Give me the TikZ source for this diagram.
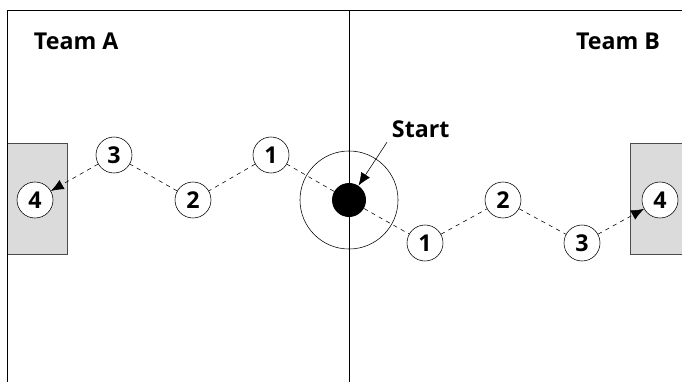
\documentclass[tikz,border=0pt]{standalone}
\usepackage{fontspec}
\setmainfont{Open Sans}
\usetikzlibrary{arrows.meta,positioning}

\begin{document}
\begin{tikzpicture}[x=0.025cm, y=-0.025cm,
    every node/.style={font=\fontsize{16.5}{18}\selectfont\bfseries},
    station/.style={circle, draw, fill=white, minimum size=0.9cm, inner sep=0pt},
    goalbox/.style={draw=black!70, fill=black!14},
    run/.style={dashed, thin},
    tip/.style={-{Latex[length=0.32cm, width=0.26cm]}}]
            \useasboundingbox (0,0) rectangle (682,381);
            \clip (0,0) rectangle (682,381);
            % field
            \draw[goalbox] (7,143) rectangle (67,254);
            \draw[goalbox] (630,143) rectangle (700,254);
            \draw (7,390) -- (7,10) -- (690,10);
            \draw (349,10) -- (349,390);
            \node[circle, draw, minimum size=2.45cm] (ring) at (349,200) {};
            \node[circle, fill=black, minimum size=0.85cm] (spot) at (349,200) {};
            \node[anchor=base west] (teamA) at (29,50) {Team A};
            \node[anchor=base east] (teamB) at (665,50) {Team B};
            \node[anchor=base west] (start) at (387,137) {Start};
            \draw[tip] (start.south west) -- (spot);
            % left run
            \node[station] (l1) at (271,155) {1};
            \node[station] (l2) at (193,200) {2};
            \node[station] (l3) at (114,155) {3};
            \node[station] (l4) at (35,200) {4};
            \draw[run] (spot) -- (l1);
            \draw[run] (l1) -- (l2);
            \draw[run] (l2) -- (l3);
            \draw[run, tip] (l3) -- (l4);
            % right run
            \node[station] (r1) at (425,243) {1};
            \node[station] (r2) at (503,200) {2};
            \node[station] (r3) at (582,243) {3};
            \node[station] (r4) at (660,200) {4};
            \draw[run] (spot) -- (r1);
            \draw[run] (r1) -- (r2);
            \draw[run] (r2) -- (r3);
            \draw[run, tip] (r3) -- (r4);
        \end{tikzpicture}
\end{document}
